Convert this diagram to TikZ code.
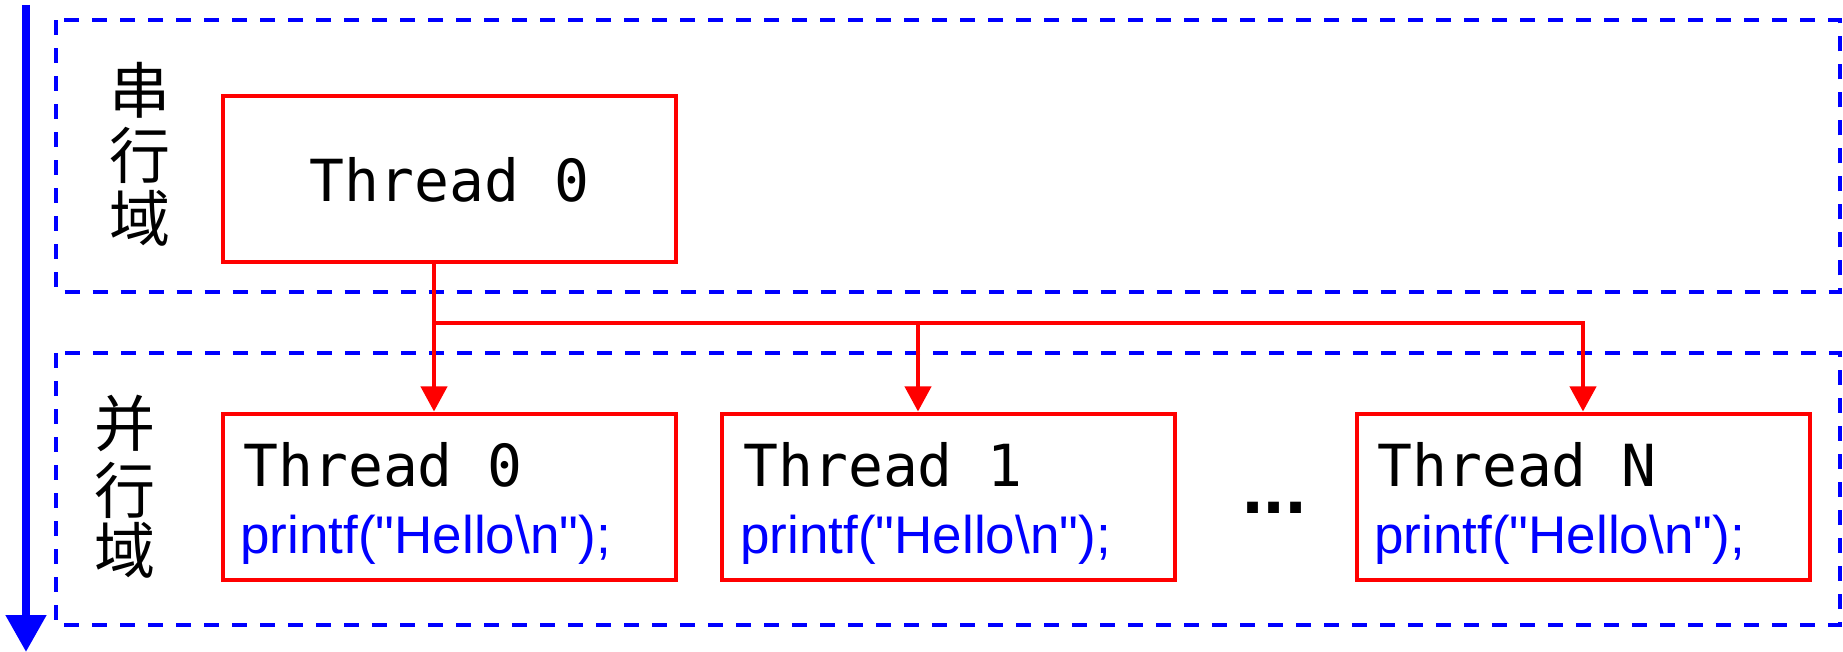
\documentclass[tikz,border=0pt]{standalone}
\usepackage{fontspec}
\setmainfont{Liberation Sans}
\newfontfamily\codefont{Liberation Sans}[Ligatures=TeXOff]
\newfontfamily\monofont{DejaVu Sans Mono}
\newfontfamily\cjk{Noto Sans CJK SC}
\usetikzlibrary{arrows.meta}
\definecolor{pblue}{RGB}{0,0,255}
\definecolor{pred}{RGB}{255,0,0}
\begin{document}
\begin{tikzpicture}[x=0.5pt,y=-0.5pt,
  region/.style={draw=pblue,line width=2pt,dash pattern=on 7.5pt off 6.5pt},
  thbox/.style={draw=pred,line width=2pt,minimum width=226.5pt,minimum height=83pt,inner sep=0pt},
  thtext/.style={font=\monofont\fontsize{29pt}{34pt}\selectfont,inner sep=0pt},
  codetext/.style={font=\codefont\fontsize{26.5pt}{30pt}\selectfont,text=pblue,inner sep=0pt},
  cjktext/.style={font=\cjk\fontsize{30.5pt}{32pt}\selectfont,inner sep=0pt},
  dotstext/.style={font=\bfseries\fontsize{38pt}{40pt}\selectfont,inner sep=0pt},
  redline/.style={draw=pred,line width=2pt},
  redarrow/.style={redline,-{Triangle[length=12.5pt,width=13pt]}},
  timearrow/.style={draw=pblue,line width=4pt,-{Triangle[length=18.5pt,width=19.5pt]}}]
\useasboundingbox (0,0) rectangle (1843,652);
% regions
\draw[region] (56,20.5) rectangle (1840,292);
\draw[region] (56,353) rectangle (1840,625);
% time arrow
\coordinate (ts) at (26,5);
\coordinate (te) at (26,652);
\draw[timearrow] (ts) -- (te);
% labels
\node[cjktext] (s1) at (140,90) {串};
\node[cjktext] (s2) at (140,155) {行};
\node[cjktext] (s3) at (140,218.5) {域};
\node[cjktext] (p1) at (125,423) {并};
\node[cjktext] (p2) at (125,490) {行};
\node[cjktext] (p3) at (125,550.5) {域};
% boxes
\node[thbox] (t0) at (449.5,179) {};
\node[thtext,anchor=base] (t0t) at (449.5,202) {Thread 0};
\node[thbox] (b0) at (449.5,496.5) {};
\node[thbox] (b1) at (948,496.5) {};
\node[thbox] (bN) at (1583,496.5) {};
\node[thtext,anchor=base west] (b0t) at (243,487) {Thread 0};
\node[thtext,anchor=base west] (b1t) at (743,487) {Thread 1};
\node[thtext,anchor=base west] (bNt) at (1377,487) {Thread N};
\node[codetext,anchor=base west] (b0c) at (240,553) {printf("Hello\textbackslash n");};
\node[codetext,anchor=base west] (b1c) at (740,553) {printf("Hello\textbackslash n");};
\node[codetext,anchor=base west] (bNc) at (1374,553) {printf("Hello\textbackslash n");};
\node[dotstext,anchor=base] (dots) at (1274.5,513) {...};
% connectors
\coordinate (j0) at (434,323);
\coordinate (j1) at (918,323);
\coordinate (jN) at (1583,323);
\draw[redarrow] (t0.south -| j0) -- (b0.north -| j0);
\draw[redline] (j0) -- (j1);
\draw[redarrow] (j1) -- (b1.north -| j1);
\draw[redarrow,line join=miter] (j1) -- (jN) -- (bN.north);
\end{tikzpicture}
\end{document}
